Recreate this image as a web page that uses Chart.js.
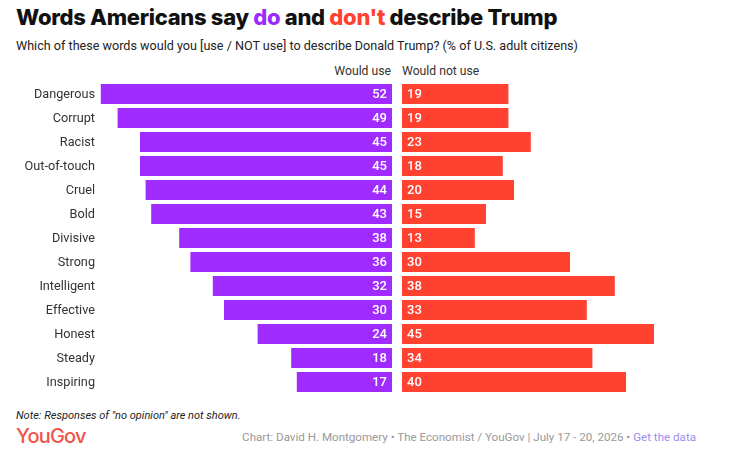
<!DOCTYPE html>
<html>
<head>
<meta charset="utf-8">
<script src="https://cdn.jsdelivr.net/npm/chart.js@4.4.1/dist/chart.umd.min.js"></script>
<style>
    body { margin: 0; width: 739px; height: 475px; background: #fff; font-family: Roboto, "Noto Sans", sans-serif; position: relative; overflow: hidden; }
    .title { position: absolute; left: 16px; top: 4px; font-family: Inter, sans-serif; font-size: 22px; font-weight: 800; color: #111; letter-spacing: -0.3px; }
    .title .do { color: #9b2cff; }
    .title .dont { color: #ff4230; }
    .subtitle { position: absolute; left: 16px; top: 38px; font-size: 12.6px; color: #222; }
    .head { position: absolute; top: 64px; font-size: 12.2px; color: #333; }
    #headUse { right: calc(739px - 391px); }
    #headNot { left: 402px; }
    #leftWrap { position: absolute; left: 0; top: 82px; width: 392px; height: 312px; }
    #rightWrap { position: absolute; left: 402px; top: 82px; width: 336px; height: 312px; }
    .note { position: absolute; left: 16px; top: 409px; font-size: 11px; font-style: italic; color: #222; }
    .logo { position: absolute; left: 16px; top: 424px; font-family: Inter, sans-serif; font-size: 20px; font-weight: 500; color: #f0554a; letter-spacing: -0.8px; }
    .credit { position: absolute; right: 43px; top: 430px; font-size: 11.6px; color: #999; }
    .credit a { color: #9a8cf0; text-decoration: none; }
</style>
</head>
<body>
<div class="title">Words Americans say <span class="do">do</span> and <span class="dont">don't</span> describe Trump</div>
<div class="subtitle">Which of these words would you [use / NOT use] to describe Donald Trump? (% of U.S. adult citizens)</div>
<div class="head" id="headUse">Would use</div>
<div class="head" id="headNot">Would not use</div>
<div id="leftWrap"><canvas id="chartUse"></canvas></div>
<div id="rightWrap"><canvas id="chartNot"></canvas></div>
<div class="note">Note: Responses of "no opinion" are not shown.</div>
<div class="logo">YouGov</div>
<div class="credit">Chart: David H. Montgomery • The Economist / YouGov | July 17 - 20, 2026 • <a>Get the data</a></div>

<script>
// Dados
const words = ['Dangerous', 'Corrupt', 'Racist', 'Out-of-touch', 'Cruel', 'Bold', 'Divisive', 'Strong', 'Intelligent', 'Effective', 'Honest', 'Steady', 'Inspiring'];
const wouldUse = [52, 49, 45, 45, 44, 43, 38, 36, 32, 30, 24, 18, 17];
const wouldNotUse = [19, 19, 23, 18, 20, 15, 13, 30, 38, 33, 45, 34, 40];

const COLORS = { USE: '#a02bff', NOT: '#ff4130' };
const PX_PER_UNIT = 5.6;
const LABEL_WIDTH = 100;

// Rótulos de valor dentro das barras + nomes das categorias
const valueLabels = {
    id: 'valueLabels',
    afterDatasetsDraw(chart, args, opts) {
        const ctx = chart.ctx;
        const meta = chart.getDatasetMeta(0);
        ctx.save();
        ctx.textBaseline = 'middle';
        meta.data.forEach((bar, i) => {
            const v = chart.data.datasets[0].data[i];
            ctx.font = '500 13px Roboto, "Noto Sans", sans-serif';
            ctx.fillStyle = '#fff';
            if (opts.side === 'left') {
                ctx.textAlign = 'right';
                ctx.fillText(v, bar.base - 5, bar.y + 0.5);
                // nome da categoria
                ctx.font = '12.7px Roboto, "Noto Sans", sans-serif';
                ctx.fillStyle = '#333';
                ctx.fillText(chart.data.labels[i], LABEL_WIDTH - 5, bar.y + 0.5);
            } else {
                ctx.textAlign = 'left';
                ctx.fillText(v, bar.base + 5, bar.y + 0.5);
            }
        });
        ctx.restore();
    }
};

function baseOptions() {
    return {
        indexAxis: 'y',
        responsive: true,
        maintainAspectRatio: false,
        animation: false,
        layout: { padding: 0 },
        plugins: { legend: { display: false }, tooltip: { enabled: false } },
    };
}

// Gráfico esquerdo: "Would use"
const optsUse = baseOptions();
optsUse.layout.padding = { left: LABEL_WIDTH };
optsUse.plugins.valueLabels = { side: 'left' };
optsUse.scales = {
    x: { reverse: true, min: 0, max: (392 - LABEL_WIDTH) / PX_PER_UNIT, display: false },
    y: { display: false }
};
new Chart(document.getElementById('chartUse'), {
    type: 'bar',
    data: { labels: words, datasets: [{ data: wouldUse, backgroundColor: COLORS.USE, barPercentage: 1, categoryPercentage: 20 / 24 }] },
    options: optsUse,
    plugins: [valueLabels]
});

// Gráfico direito: "Would not use"
const optsNot = baseOptions();
optsNot.plugins.valueLabels = { side: 'right' };
optsNot.scales = {
    x: { min: 0, max: 336 / PX_PER_UNIT, display: false },
    y: { display: false }
};
new Chart(document.getElementById('chartNot'), {
    type: 'bar',
    data: { labels: words, datasets: [{ data: wouldNotUse, backgroundColor: COLORS.NOT, barPercentage: 1, categoryPercentage: 20 / 24 }] },
    options: optsNot,
    plugins: [valueLabels]
});
</script>
</body>
</html>
